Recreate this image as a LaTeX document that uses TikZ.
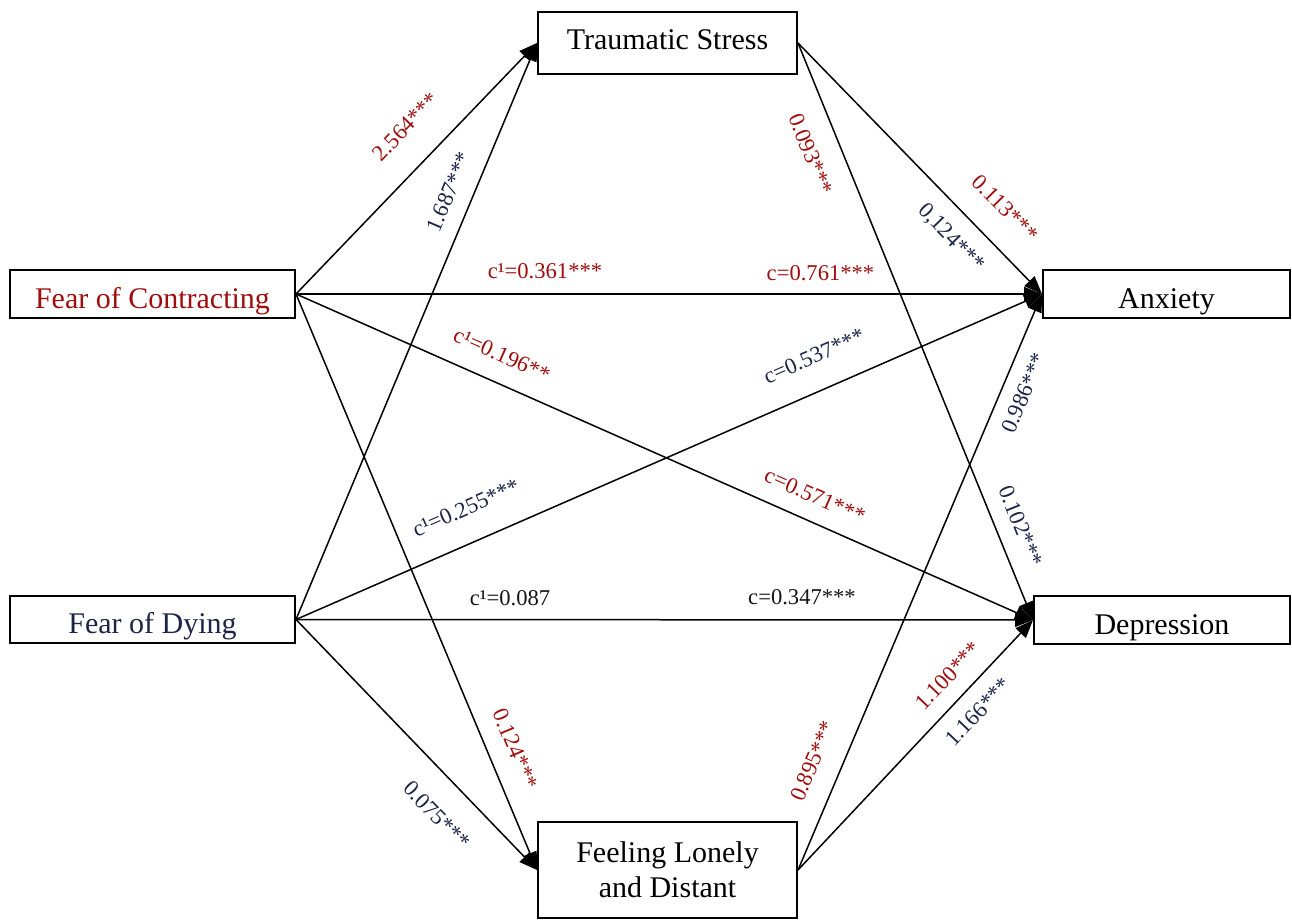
\documentclass[tikz,border=0pt]{standalone}
\usepackage{fontspec}
\setmainfont{Liberation Serif}
\usetikzlibrary{arrows.meta}
\definecolor{dred}{HTML}{A00D0D}
\definecolor{dnavy}{HTML}{1C2448}
\definecolor{dblack}{HTML}{151515}
\begin{document}
\begin{tikzpicture}[x=0.5pt,y=-0.5pt,
  box/.style={draw,line width=1pt,inner sep=0pt,align=center,font=\fontsize{15}{17.5}\selectfont},
  side/.style={box,text height=14pt,text depth=0pt},
  arr/.style={line width=0.75pt,-{Triangle[length=9pt,width=7pt]}},
  lab/.style={inner sep=0pt,font=\fontsize{11.3}{13}\selectfont}]
\useasboundingbox (0,0) rectangle (1292,920);
% boxes
\node[box,text height=7pt,text depth=0pt,minimum width=129.5pt,minimum height=31pt] (ts) at (667.5,43) {Traumatic Stress};
\node[side,minimum width=142.5pt,minimum height=24pt,text=dred] (foc) at (152.5,294) {Fear of Contracting};
\node[side,minimum width=142.5pt,minimum height=23.5pt,text=dnavy] (fod) at (152.5,619.5) {Fear of Dying};
\node[side,minimum width=123.5pt,minimum height=24pt] (anx) at (1166.5,294) {Anxiety};
\node[side,minimum width=128pt,minimum height=24pt] (dep) at (1162,620) {Depression};
\node[box,minimum width=129.5pt,minimum height=48pt] (fld) at (667.5,870) {Feeling Lonely\\and Distant};
% connectors
\draw[arr] (foc.east) -- (ts.west);
\draw[arr] (fod.east) -- (ts.west);
\draw[arr] (foc.east) -- (anx.west);
\draw[arr] (foc.east) -- (dep.west);
\draw[arr] (fod.east) -- (anx.west);
\draw[arr] (fod.east) -- (dep.west);
\draw[arr] (foc.east) -- (fld.west);
\draw[arr] (fod.east) -- (fld.west);
\draw[arr] (ts.east) -- (anx.west);
\draw[arr] (ts.east) -- (dep.west);
\draw[arr] (fld.east) -- (anx.west);
\draw[arr] (fld.east) -- (dep.west);
% labels
\node[lab,text=dred,rotate=46] (l1) at (405.6,126.7) {2.564***};
\node[lab,text=dnavy,rotate=67] (l2) at (449,192) {1.687***};
\node[lab,text=dred] (l3) at (545,271) {c¹=0.361***};
\node[lab,text=dred] (l4) at (820.5,273) {c=0.761***};
\node[lab,text=dred,rotate=-24] (l5) at (502,355) {c¹=0.196**};
\node[lab,text=dnavy,rotate=23.6] (l6) at (466,508) {c¹=0.255***};
\node[lab,text=dblack] (l7) at (510,598) {c¹=0.087};
\node[lab,text=dnavy,rotate=23.6] (l8) at (814,356) {c=0.537***};
\node[lab,text=dred,rotate=-24] (l9) at (815,496) {c=0.571***};
\node[lab,text=dnavy,rotate=67] (l10) at (1024,393) {0.986***};
\node[lab,text=dnavy,rotate=-68] (l11) at (1021,526) {0.102***};
\node[lab,text=dred,rotate=-68] (l12) at (811,154) {0.093***};
\node[lab,text=dred,rotate=-45.5] (l13) at (1005,208) {0.113***};
\node[lab,text=dnavy,rotate=-45.5] (l14) at (951,238) {0,124***};
\node[lab,text=dred,rotate=-67] (l15) at (515.5,749) {0.124***};
\node[lab,text=dnavy,rotate=-45.5] (l16) at (437,815) {0.075***};
\node[lab,text=dblack] (l17) at (802,597) {c=0.347***};
\node[lab,text=dred,rotate=67] (l18) at (813,761) {0.895***};
\node[lab,text=dred,rotate=46.3] (l19) at (948,676) {1.100***};
\node[lab,text=dnavy,rotate=46.3] (l20) at (978,712) {1.166***};
\end{tikzpicture}
\end{document}
